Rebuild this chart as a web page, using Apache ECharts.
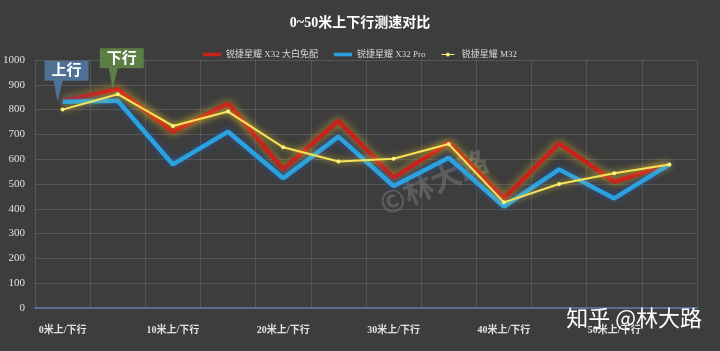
<!DOCTYPE html>
<html>
<head>
<meta charset="utf-8">
<script src="https://cdn.jsdelivr.net/npm/echarts@6/dist/echarts.min.js"></script>
<style>
html, body { margin: 0; padding: 0; background: #3d3d3d; }
#main { width: 720px; height: 351px; }
</style>
</head>
<body>
<div id="main"></div>
<script>
// 数据
var categories = ['0米上/下行', '0米下行', '10米上/下行', '10米下行', '20米上/下行', '20米下行',
    '30米上/下行', '30米下行', '40米上/下行', '40米下行', '50米上/下行', '50米下行'];
var x32Free = [835, 882, 711, 825, 559, 755, 525, 667, 442, 664, 509, 579];
var x32Pro = [832, 836, 579, 711, 523, 691, 492, 606, 409, 559, 442, 579];
var m32 = [800, 862, 734, 792, 648, 591, 602, 661, 426, 500, 543, 579];
var seriesNames = ['锐捷星耀 X32 大白免配', '锐捷星耀 X32 Pro', '锐捷星耀 M32'];

var fontLatin = '"Liberation Serif", "Noto Sans CJK SC", serif';
var calloutPath = 'path://M0,0L44,0L44,20L18,20L13,41L9,20L0,20Z';
var barIcon = 'path://M0,0H20V4H0Z';
var dotIcon = 'path://M0,1.4H7.5A2.5,2.5,0,1,1,12.5,1.4H20V2.6H12.5A2.5,2.5,0,1,1,7.5,2.6H0Z';

var chart = echarts.init(document.getElementById('main'));

var option = {
    backgroundColor: '#3d3d3d',
    title: {
        text: '0~50米上下行测速对比',
        left: 'center',
        top: 11,
        textStyle: { color: '#fff', fontSize: 14, fontWeight: 'bold', fontFamily: fontLatin }
    },
    legend: {
        top: 45,
        left: 'center',
        itemWidth: 18,
        itemHeight: 4,
        itemGap: 16,
        textStyle: { color: '#d8d8d8', fontSize: 9, fontFamily: fontLatin },
        data: [
            { name: seriesNames[0], icon: barIcon },
            { name: seriesNames[1], icon: barIcon },
            { name: seriesNames[2], icon: dotIcon }
        ]
    },
    grid: { left: 32, right: 23, top: 60, bottom: 43 },
    xAxis: {
        type: 'category',
        data: categories,
        axisLine: { lineStyle: { color: '#5b79b0', width: 1.5 } },
        axisTick: { interval: 0, length: 3, lineStyle: { color: '#5b79b0' } },
        axisLabel: {
            interval: 1, color: '#e0e0e0', fontSize: 10, fontWeight: 'bold',
            fontFamily: fontLatin, margin: 17
        },
        splitLine: { show: true, interval: 0, lineStyle: { color: 'rgba(255,255,255,0.12)' } }
    },
    yAxis: {
        type: 'value',
        min: 0,
        max: 1000,
        interval: 100,
        axisLine: { show: false },
        axisTick: { show: false },
        axisLabel: {
            color: '#e0e0e0', fontSize: 11, fontFamily: fontLatin, margin: 10,
            formatter: function (v) { return String(v); }
        },
        splitLine: { lineStyle: { color: 'rgba(255,255,255,0.13)' } }
    },
    series: [
        {
            name: seriesNames[0],
            type: 'line',
            data: x32Free,
            symbol: 'none',
            color: '#c8221c',
            lineStyle: { width: 4.5, color: '#c8221c', shadowColor: 'rgba(240,190,40,0.75)', shadowBlur: 8 },
            markPoint: {
                data: [{
                    coord: [1, x32Free[1]],
                    symbol: calloutPath,
                    symbolSize: [44, 41],
                    symbolKeepAspect: false,
                    symbolOffset: [4, -20.5],
                    itemStyle: { color: '#5b7e45' },
                    label: { show: true, formatter: '下行', offset: [0, -10], color: '#fff', fontSize: 15, fontWeight: 'bold', fontFamily: fontLatin }
                }]
            },
            z: 2
        },
        {
            name: seriesNames[1],
            type: 'line',
            data: x32Pro,
            symbol: 'none',
            color: '#2aa2e0',
            lineStyle: { width: 4.5, color: '#2aa2e0', shadowColor: 'rgba(40,90,170,0.8)', shadowBlur: 6 },
            markPoint: {
                data: [{
                    coord: [0, x32Pro[0]],
                    symbol: calloutPath,
                    symbolSize: [44, 41],
                    symbolKeepAspect: false,
                    symbolOffset: [4, -20.5],
                    itemStyle: { color: '#4f7196' },
                    label: { show: true, formatter: '上行', offset: [0, -10], color: '#fff', fontSize: 15, fontWeight: 'bold', fontFamily: fontLatin }
                }]
            },
            z: 3
        },
        {
            name: seriesNames[2],
            type: 'line',
            data: m32,
            symbol: 'circle',
            symbolSize: 4,
            showAllSymbol: true,
            color: '#f7e35a',
            itemStyle: { color: '#fff27a' },
            lineStyle: { width: 2, color: '#f7e35a', shadowColor: 'rgba(250,220,40,0.8)', shadowBlur: 6 },
            z: 4
        }
    ],
    graphic: [
        {
            type: 'text',
            left: 375,
            top: 145,
            rotation: 0.42,
            style: {
                text: '©林大路',
                fill: 'rgba(130,130,130,0.45)',
                font: 'bold 30px "Noto Sans CJK SC", sans-serif'
            },
            z: 1
        },
        {
            type: 'text',
            right: 18,
            top: 307,
            style: {
                text: '知乎 @林大路',
                fill: '#ffffff',
                font: '22px "Noto Sans CJK SC", sans-serif'
            },
            z: 10
        }
    ]
};

chart.setOption(option);
window.onresize = chart.resize;
</script>
</body>
</html>
